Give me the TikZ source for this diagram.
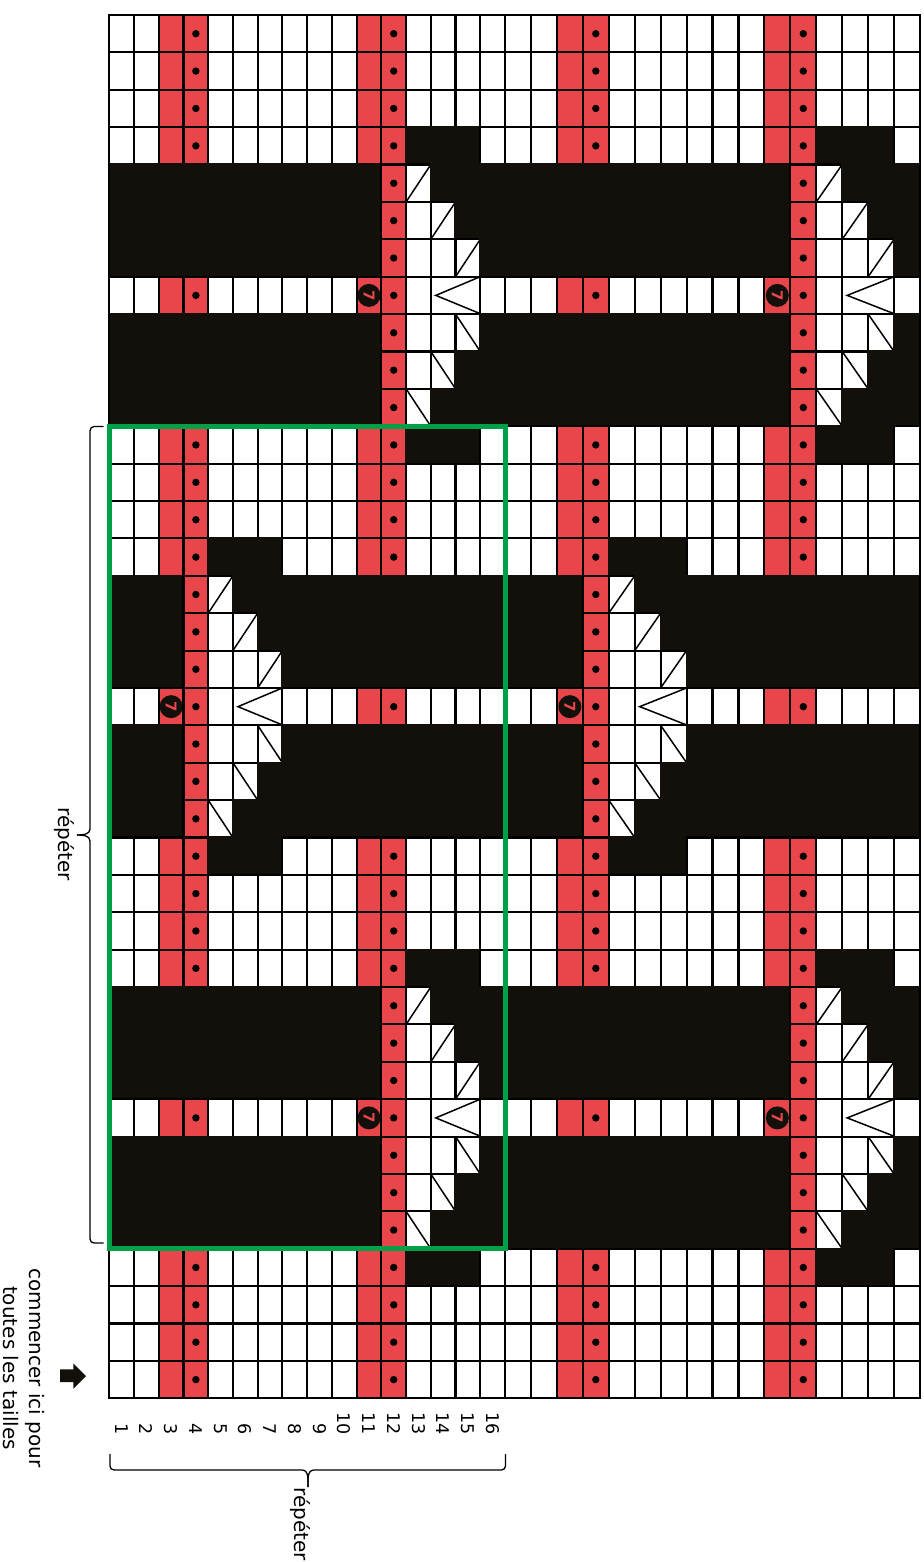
\documentclass[tikz,border=0pt]{standalone}
\usepackage{fontspec}
\setmainfont{DejaVu Sans}
\definecolor{chartred}{RGB}{232,70,75}
\definecolor{chartblack}{RGB}{19,16,12}
\definecolor{chartgreen}{RGB}{0,160,72}

\def\rowP{W,W,R,D,W,W,W,W,W,W,R,D,W,W,W,W}
\def\rowQ{W,W,R,D,W,W,W,W,W,W,R,D,B,B,B,W}
\def\rowS{W,W,R,D,B,B,B,W,W,W,R,D,W,W,W,W}
\def\rowAa{B,B,B,B,B,B,B,B,B,B,B,D,U,B,B,B}
\def\rowAb{B,B,B,B,B,B,B,B,B,B,B,D,W,U,B,B}
\def\rowAc{B,B,B,B,B,B,B,B,B,B,B,D,W,W,U,B}
\def\rowAd{W,W,R,D,W,W,W,W,W,W,K,D,W,M,N,W}
\def\rowAe{B,B,B,B,B,B,B,B,B,B,B,D,W,W,V,B}
\def\rowAf{B,B,B,B,B,B,B,B,B,B,B,D,W,V,B,B}
\def\rowAg{B,B,B,B,B,B,B,B,B,B,B,D,V,B,B,B}
\def\rowCa{B,B,B,D,U,B,B,B,B,B,B,B,B,B,B,B}
\def\rowCb{B,B,B,D,W,U,B,B,B,B,B,B,B,B,B,B}
\def\rowCc{B,B,B,D,W,W,U,B,B,B,B,B,B,B,B,B}
\def\rowCd{W,W,K,D,W,M,N,W,W,W,R,D,W,W,W,W}
\def\rowCe{B,B,B,D,W,W,V,B,B,B,B,B,B,B,B,B}
\def\rowCf{B,B,B,D,W,V,B,B,B,B,B,B,B,B,B,B}
\def\rowCg{B,B,B,D,V,B,B,B,B,B,B,B,B,B,B,B}

\def\cellW{\filldraw[cellbox,fill=white] (\xl,\yt) rectangle (\xr,\yb);}
\def\cellR{\filldraw[cellbox,fill=chartred] (\xl,\yt) rectangle (\xr,\yb);}
\def\cellB{\filldraw[cellbox,draw=chartblack,fill=chartblack] (\xl,\yt) rectangle (\xr,\yb);}
\def\cellD{\cellR\fill[black] (\xc,\yc) circle[radius=3.7pt];}
\def\cellK{\cellR\fill[chartblack] (\xc,\yc) circle[radius=11.5pt];
  \node[seven] (sev-\rr-\hh) at (\xc,\yc) {7};}
\def\cellU{\cellW\draw[diag] (\xl,\yb) -- (\xr,\yt);}
\def\cellV{\cellW\draw[diag] (\xl,\yt) -- (\xr,\yb);}
\def\cellM{\pgfmathsetmacro\xrr{\xl+2*\cw}%
  \filldraw[cellbox,fill=white] (\xl,\yt) rectangle (\xrr,\yb);
  \draw[diag] (\xrr,\yt) -- (\xl+5,\yc) -- (\xrr+1,\yb);}
\def\cellN{}

\begin{document}
\begin{tikzpicture}[x=1pt,y=-1pt,
  cellbox/.style={draw=black,line width=2.1pt},
  diag/.style={draw=black,line width=1.5pt},
  seven/.style={text=chartred,rotate=-90,inner sep=0pt,font=\fontsize{15}{15}\bfseries},
  numlbl/.style={anchor=east,rotate=-90,inner sep=0pt,font=\fontsize{17.5}{17.5}\selectfont},
  txtlbl/.style={anchor=base west,rotate=-90,inner sep=0pt,font=\fontsize{20}{26}\selectfont},
  bracestyle/.style={draw=black,line width=1.3pt}]
\useasboundingbox (0,0) rectangle (923,1562);

\foreach \rr/\pat in {1/P,2/P,3/P,4/Q,5/Aa,6/Ab,7/Ac,8/Ad,9/Ae,10/Af,11/Ag,12/Q,13/P,14/P,15/S,16/Ca,17/Cb,18/Cc,19/Cd,20/Ce,21/Cf,22/Cg,23/S,24/P,25/P,26/Q,27/Aa,28/Ab,29/Ac,30/Ad,31/Ae,32/Af,33/Ag,34/Q,35/P,36/P,37/P} {
  \pgfmathsetmacro\yt{15+(\rr-1)*37.386}
  \pgfmathsetmacro\yb{\yt+37.386}
  \pgfmathsetmacro\yc{\yt+18.693}
  \expandafter\let\expandafter\curlist\csname row\pat\endcsname
  \foreach \hh in {0,1} {
    \foreach \code [count=\cc] in \curlist {
      \pgfmathsetmacro\cw{\hh==0 ? 24.731 : 25.938}
      \pgfmathsetmacro\xl{\hh==0 ? 109.3+(\cc-1)*24.731 : 505+(\cc-1)*25.938}
      \pgfmathsetmacro\xr{\xl+\cw}
      \pgfmathsetmacro\xc{\xl+\cw/2}
      \csname cell\code\endcsname
    }
  }
}

% outer frame of the chart
\draw[line width=2.1pt] (109.3,15) rectangle (920,1398.3);

% green repeat frame
\draw[chartgreen,line width=5pt] (109.3,426.3) rectangle (505,1248.7);

% column numbers
\foreach \n in {1,...,16} {
  \pgfmathsetmacro\xn{109.3+(\n-0.5)*24.731}
  \node[numlbl] (num\n) at (\xn,1435) {\n};
}

% left brace
\draw[bracestyle] (103.5,426.5) -- (94,426.5) to[out=180,in=90] (90,431) -- (90,829) to[out=-90,in=0] (77,835);
\draw[bracestyle] (77,835) to[out=0,in=90] (90,841) -- (90,1239) to[out=-90,in=180] (94,1243) -- (103.5,1243);
\node[txtlbl] (repL) at (58,807) {répéter};

% bottom brace
\draw[bracestyle] (110,1454) -- (110,1466) to[out=-90,in=180] (114,1470) -- (302,1470) to[out=0,in=90] (308,1487);
\draw[bracestyle] (308,1487) to[out=90,in=180] (314,1470) -- (501.5,1470) to[out=0,in=-90] (505.5,1466) -- (505.5,1454);
\node[txtlbl] (repB) at (294,1487) {répéter};

% start arrow and text
\fill[chartblack] (60,1369.3) -- (73.3,1369.3) -- (73.3,1363.3) -- (86,1376) -- (73.3,1388.7) -- (73.3,1382) -- (60,1382) -- cycle;
\node[rotate=-90,align=center,inner sep=0pt,font=\fontsize{20}{26}\selectfont] (start) at (24,1368) {commencer ici pour\\toutes les tailles};
\end{tikzpicture}
\end{document}
